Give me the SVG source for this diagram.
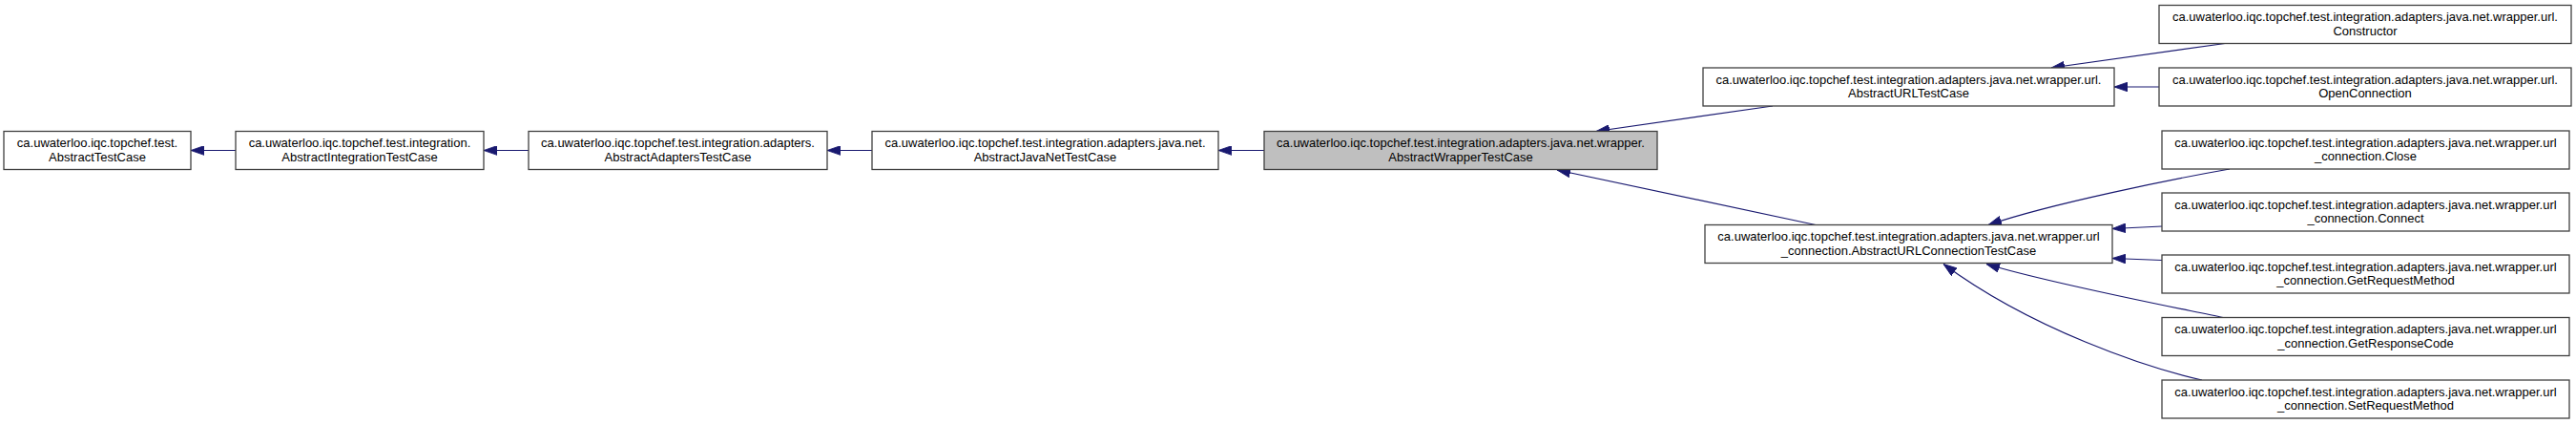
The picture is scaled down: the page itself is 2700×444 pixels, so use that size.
<svg xmlns="http://www.w3.org/2000/svg" width="2700" height="444" viewBox="0 0 2700 444">
<style>
.node rect{fill:#ffffff;stroke:#404040;stroke-width:1.3}
.node.main rect{fill:#bfbfbf}
.node text{font-family:"Liberation Sans",Arial,Helvetica,sans-serif;font-size:13px;fill:#000000;text-anchor:middle}
.edge{fill:none;stroke:#191970;stroke-width:1.2}
</style>
<defs>
<marker id="arr" markerUnits="userSpaceOnUse" markerWidth="14" markerHeight="10" viewBox="0 0 13 9" refX="13" refY="4.5" orient="auto">
<path d="M0,0 L13,4.5 L0,9 Z" fill="#191970" stroke="#191970" stroke-width="0.8"/>
</marker>
</defs>
<rect width="2700" height="444" fill="#ffffff"/>
<g id="connectors">
<path class="edge" marker-end="url(#arr)" d="M247,157.5 L200,157.5"/>
<path class="edge" marker-end="url(#arr)" d="M554,157.5 L507,157.5"/>
<path class="edge" marker-end="url(#arr)" d="M914,157.5 L867,157.5"/>
<path class="edge" marker-end="url(#arr)" d="M1325,157.5 L1277,157.5"/>
<path class="edge" marker-end="url(#arr)" d="M1858,111 L1673,137.5"/>
<path class="edge" marker-end="url(#arr)" d="M1903,235.5 L1632,178"/>
<path class="edge" marker-end="url(#arr)" d="M2332,45.5 L2150,71"/>
<path class="edge" marker-end="url(#arr)" d="M2263,91 L2216,91"/>
<path class="edge" marker-end="url(#arr)" d="M2337,177 C2280,187 2150,213 2084,235.5"/>
<path class="edge" marker-end="url(#arr)" d="M2266,237 L2214,239.5"/>
<path class="edge" marker-end="url(#arr)" d="M2266,272.5 L2214,270.5"/>
<path class="edge" marker-end="url(#arr)" d="M2330,332.5 C2280,322 2150,297 2082,276.5"/>
<path class="edge" marker-end="url(#arr)" d="M2308,398 C2250,385 2130,345 2037,276.5"/>
</g>
<g id="node-AbstractTestCase" class="node">
<rect x="4" y="137.5" width="196" height="40"/>
<text x="102" y="154">ca.uwaterloo.iqc.topchef.test.</text>
<text x="102" y="168.5">AbstractTestCase</text>
</g>
<g id="node-AbstractIntegrationTestCase" class="node">
<rect x="247" y="137.5" width="260" height="40"/>
<text x="377" y="154">ca.uwaterloo.iqc.topchef.test.integration.</text>
<text x="377" y="168.5">AbstractIntegrationTestCase</text>
</g>
<g id="node-AbstractAdaptersTestCase" class="node">
<rect x="554" y="137.5" width="313" height="40"/>
<text x="710.5" y="154">ca.uwaterloo.iqc.topchef.test.integration.adapters.</text>
<text x="710.5" y="168.5">AbstractAdaptersTestCase</text>
</g>
<g id="node-AbstractJavaNetTestCase" class="node">
<rect x="914" y="137.5" width="363" height="40"/>
<text x="1095.5" y="154">ca.uwaterloo.iqc.topchef.test.integration.adapters.java.net.</text>
<text x="1095.5" y="168.5">AbstractJavaNetTestCase</text>
</g>
<g id="node-AbstractWrapperTestCase" class="node main">
<rect x="1325" y="137.5" width="412" height="40"/>
<text x="1531" y="154">ca.uwaterloo.iqc.topchef.test.integration.adapters.java.net.wrapper.</text>
<text x="1531" y="168.5">AbstractWrapperTestCase</text>
</g>
<g id="node-AbstractURLTestCase" class="node">
<rect x="1785" y="71" width="431" height="40"/>
<text x="2000.5" y="87.5">ca.uwaterloo.iqc.topchef.test.integration.adapters.java.net.wrapper.url.</text>
<text x="2000.5" y="102">AbstractURLTestCase</text>
</g>
<g id="node-AbstractURLConnectionTestCase" class="node">
<rect x="1787" y="235.5" width="427" height="40"/>
<text x="2000.5" y="252">ca.uwaterloo.iqc.topchef.test.integration.adapters.java.net.wrapper.url</text>
<text x="2000.5" y="266.5">_connection.AbstractURLConnectionTestCase</text>
</g>
<g id="node-Constructor" class="node">
<rect x="2263" y="5.5" width="432" height="40"/>
<text x="2479" y="22">ca.uwaterloo.iqc.topchef.test.integration.adapters.java.net.wrapper.url.</text>
<text x="2479" y="36.5">Constructor</text>
</g>
<g id="node-OpenConnection" class="node">
<rect x="2263" y="71" width="432" height="40"/>
<text x="2479" y="87.5">ca.uwaterloo.iqc.topchef.test.integration.adapters.java.net.wrapper.url.</text>
<text x="2479" y="102">OpenConnection</text>
</g>
<g id="node-Close" class="node">
<rect x="2266" y="137" width="427" height="40"/>
<text x="2479.5" y="153.5">ca.uwaterloo.iqc.topchef.test.integration.adapters.java.net.wrapper.url</text>
<text x="2479.5" y="168">_connection.Close</text>
</g>
<g id="node-Connect" class="node">
<rect x="2266" y="202" width="427" height="40"/>
<text x="2479.5" y="218.5">ca.uwaterloo.iqc.topchef.test.integration.adapters.java.net.wrapper.url</text>
<text x="2479.5" y="233">_connection.Connect</text>
</g>
<g id="node-GetRequestMethod" class="node">
<rect x="2266" y="267" width="427" height="40"/>
<text x="2479.5" y="283.5">ca.uwaterloo.iqc.topchef.test.integration.adapters.java.net.wrapper.url</text>
<text x="2479.5" y="298">_connection.GetRequestMethod</text>
</g>
<g id="node-GetResponseCode" class="node">
<rect x="2266" y="332.5" width="427" height="40"/>
<text x="2479.5" y="349">ca.uwaterloo.iqc.topchef.test.integration.adapters.java.net.wrapper.url</text>
<text x="2479.5" y="363.5">_connection.GetResponseCode</text>
</g>
<g id="node-SetRequestMethod" class="node">
<rect x="2266" y="398" width="427" height="40"/>
<text x="2479.5" y="414.5">ca.uwaterloo.iqc.topchef.test.integration.adapters.java.net.wrapper.url</text>
<text x="2479.5" y="429">_connection.SetRequestMethod</text>
</g>
</svg>
